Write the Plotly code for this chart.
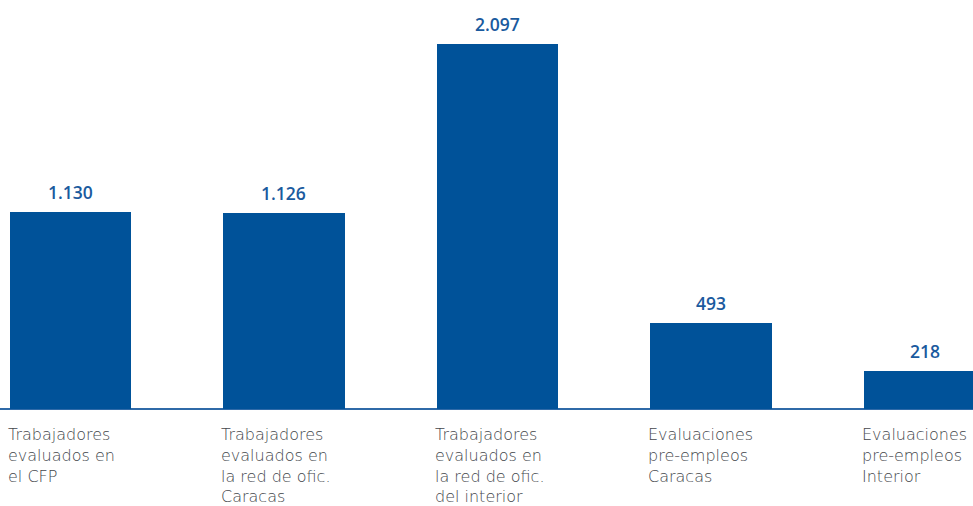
import plotly.graph_objects as go

categories = [
    "Trabajadores<br>evaluados en<br>el CFP",
    "Trabajadores<br>evaluados en<br>la red de ofic.<br>Caracas",
    "Trabajadores<br>evaluados en<br>la red de ofic.<br>del interior",
    "Evaluaciones<br>pre-empleos<br>Caracas",
    "Evaluaciones<br>pre-empleos<br>Interior",
]
values = [1130, 1126, 2097, 493, 218]

BAR_COLOR = "#005299"
BAR_W = 0.567
xs = list(range(len(values)))

def fmt(v):
    return f"{v:,}".replace(",", ".")

fig = go.Figure()
fig.add_trace(go.Bar(
    x=xs, y=values, width=BAR_W,
    marker=dict(color=BAR_COLOR, line=dict(width=0)),
    hoverinfo="skip",
))

annotations = []
for x, v, c in zip(xs, values, categories):
    annotations.append(dict(
        x=x, y=v, xref="x", yref="y", text=fmt(v), showarrow=False,
        xanchor="center", yanchor="bottom", yshift=6,
        font=dict(family="Open Sans", size=17.5, color="#1a5a9e", weight=600),
    ))
    annotations.append(dict(
        x=x - BAR_W / 2, y=0, xref="x", yref="y", text=c, showarrow=False,
        xanchor="left", yanchor="top", yshift=-14.5, xshift=-3, align="left",
        borderpad=0,
        font=dict(family="DejaVu Sans", size=16, color="#44474c", weight=200),
    ))

fig.update_layout(
    width=973, height=506,
    margin=dict(l=0, r=0, t=0, b=97),
    paper_bgcolor="white", plot_bgcolor="white",
    showlegend=False,
    annotations=annotations,
    xaxis=dict(range=[-0.330, 4.227], showticklabels=False, showgrid=False,
               zeroline=False, showline=False, fixedrange=True),
    yaxis=dict(range=[0, 2350], showticklabels=False, showgrid=False,
               zeroline=True, zerolinecolor="#2f6aa8", zerolinewidth=1.5,
               showline=False, fixedrange=True),
    bargap=0,
)

fig.write_html("out.html", config={"displayModeBar": False},
               post_script="document.body.style.margin='0';")
